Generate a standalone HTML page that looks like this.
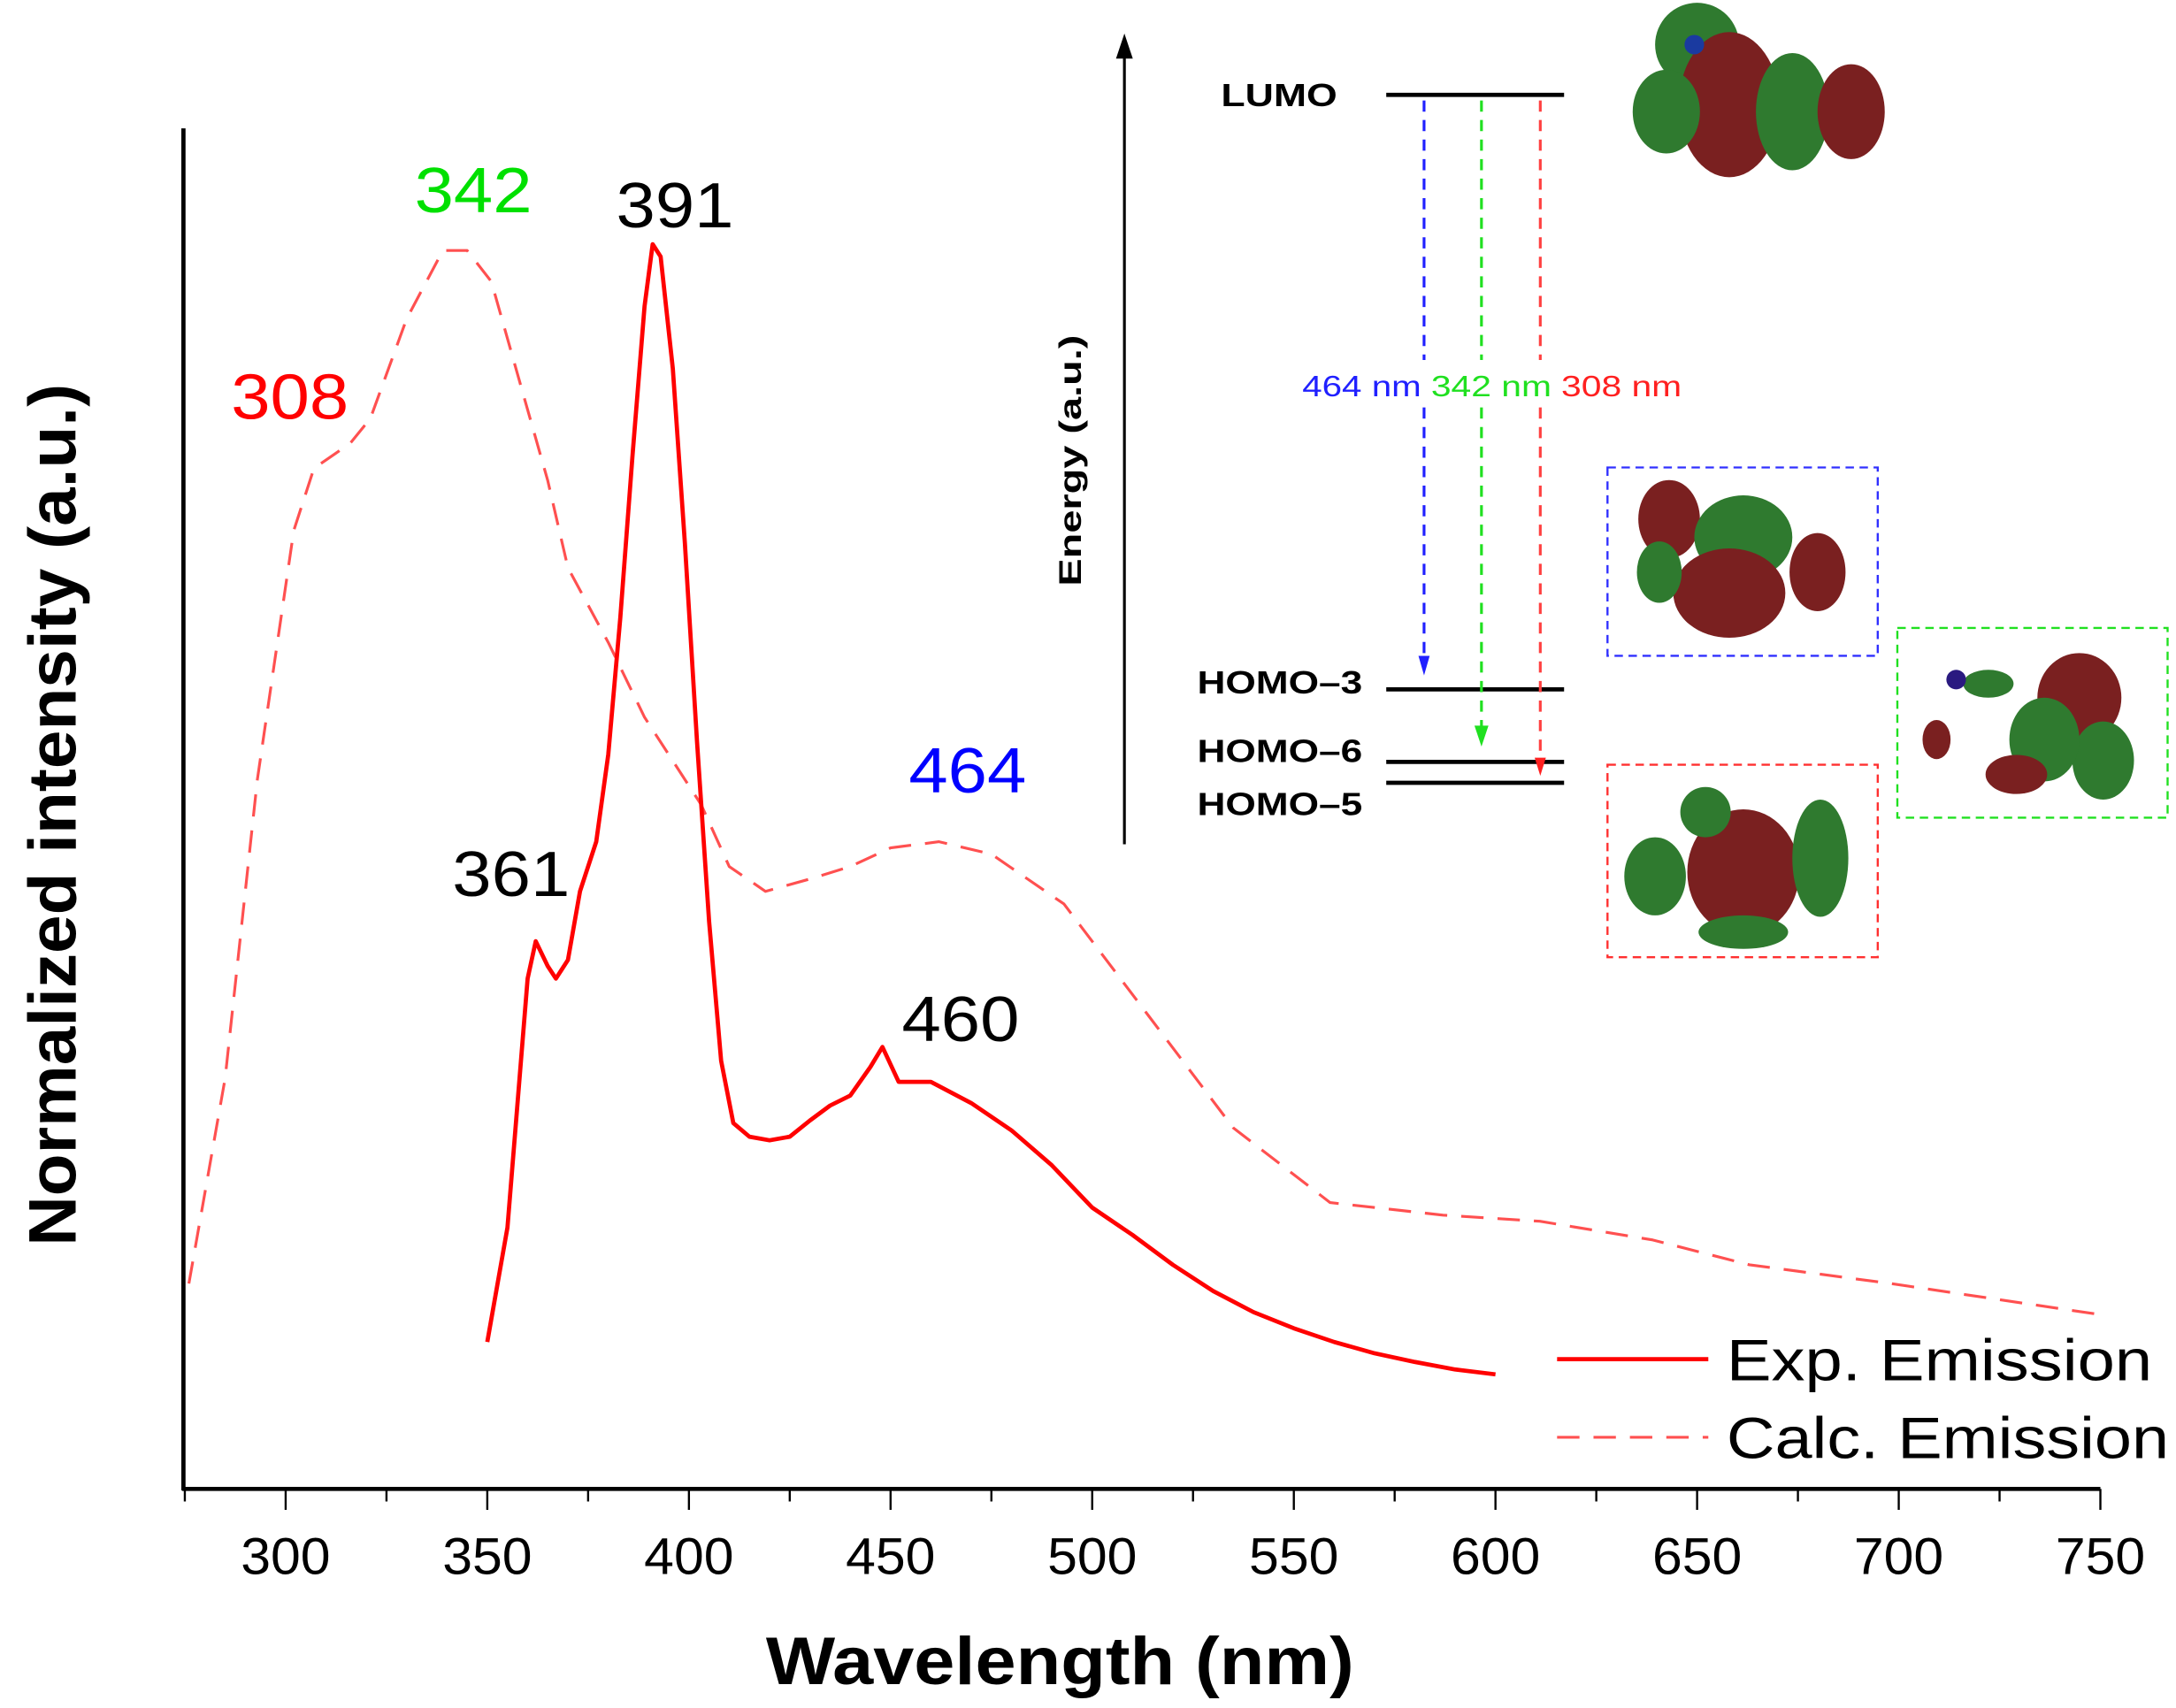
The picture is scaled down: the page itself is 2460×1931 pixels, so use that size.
<!DOCTYPE html>
<html><head><meta charset="utf-8"><style>
html,body{margin:0;padding:0;background:#fff;}
svg{display:block;font-family:"Liberation Sans",Arial,sans-serif;}
</style></head><body>
<svg id="chart" width="2460" height="1931" viewBox="0 0 1554 1224" preserveAspectRatio="none" xmlns="http://www.w3.org/2000/svg">
<g id="plot"></g>
<g id="inset">
  <line x1="803" y1="605" x2="803" y2="34" stroke="#000" stroke-width="2"/>
  <path d="M797,42 L803,24 L809,42 Z" fill="#000"/>
  <text transform="translate(772,330) rotate(-90)" text-anchor="middle" font-size="22" font-weight="bold" textLength="180" lengthAdjust="spacingAndGlyphs">Energy (a.u.)</text>
  <line x1="990" y1="68" x2="1117" y2="68" stroke="#000" stroke-width="3"/>
  <text x="872" y="76" font-size="23" font-weight="bold" textLength="83" lengthAdjust="spacingAndGlyphs">LUMO</text>
  <line x1="990" y1="494" x2="1117" y2="494" stroke="#000" stroke-width="3"/>
  <text x="855" y="497" font-size="23" font-weight="bold" textLength="118" lengthAdjust="spacingAndGlyphs">HOMO–3</text>
  <line x1="990" y1="546" x2="1117" y2="546" stroke="#000" stroke-width="3"/>
  <text x="855" y="546" font-size="23" font-weight="bold" textLength="118" lengthAdjust="spacingAndGlyphs">HOMO–6</text>
  <line x1="990" y1="561" x2="1117" y2="561" stroke="#000" stroke-width="3"/>
  <text x="855" y="584" font-size="23" font-weight="bold" textLength="118" lengthAdjust="spacingAndGlyphs">HOMO–5</text>
  <g stroke-width="2" stroke-dasharray="8,6" fill="none">
    <path d="M1017,72 V258 M1017,292 V472" stroke="#2020ff"/>
    <path d="M1058,72 V258 M1058,292 V522" stroke="#20e020"/>
    <path d="M1100,72 V258 M1100,292 V544" stroke="#ff4040"/>
  </g>
  <path d="M1013,470 L1017,484 L1021,470Z" fill="#2020ff"/>
  <path d="M1053,520 L1058,535 L1063,520Z" fill="#20e020"/>
  <path d="M1096,543 L1100,556 L1104,543Z" fill="#ff2020"/>
  <text x="930" y="284" font-size="21" fill="#2020ff" textLength="85" lengthAdjust="spacingAndGlyphs">464 nm</text>
  <text x="1022" y="284" font-size="21" fill="#20e020" textLength="86" lengthAdjust="spacingAndGlyphs">342 nm</text>
  <text x="1115" y="284" font-size="21" fill="#ff2020" textLength="86" lengthAdjust="spacingAndGlyphs">308 nm</text>
  <rect x="1148" y="335" width="193" height="135" fill="none" stroke="#3030ff" stroke-width="1.5" stroke-dasharray="6,4"/>
  <rect x="1355" y="450" width="193" height="136" fill="none" stroke="#20e020" stroke-width="1.5" stroke-dasharray="6,4"/>
  <rect x="1148" y="548" width="193" height="138" fill="none" stroke="#ff3030" stroke-width="1.5" stroke-dasharray="6,4"/>
  <g>
    <ellipse cx="1212" cy="32" rx="30" ry="30" fill="#2f7a2f"/>
    <ellipse cx="1235" cy="75" rx="36" ry="52" fill="#7a2020"/>
    <ellipse cx="1190" cy="80" rx="24" ry="30" fill="#2f7a2f"/>
    <ellipse cx="1280" cy="80" rx="26" ry="42" fill="#2f7a2f"/>
    <ellipse cx="1322" cy="80" rx="24" ry="34" fill="#7a2020"/>
    <circle cx="1210" cy="32" r="7" fill="#1a3aa0"/>
  </g>
  <g>
    <ellipse cx="1192" cy="372" rx="22" ry="28" fill="#7a2020"/>
    <ellipse cx="1245" cy="385" rx="35" ry="30" fill="#2f7a2f"/>
    <ellipse cx="1235" cy="425" rx="40" ry="32" fill="#7a2020"/>
    <ellipse cx="1298" cy="410" rx="20" ry="28" fill="#7a2020"/>
    <ellipse cx="1185" cy="410" rx="16" ry="22" fill="#2f7a2f"/>
  </g>
  <g>
    <ellipse cx="1485" cy="500" rx="30" ry="32" fill="#7a2020"/>
    <ellipse cx="1502" cy="545" rx="22" ry="28" fill="#2f7a2f"/>
    <ellipse cx="1460" cy="530" rx="25" ry="30" fill="#2f7a2f"/>
    <ellipse cx="1440" cy="555" rx="22" ry="14" fill="#7a2020"/>
    <ellipse cx="1420" cy="490" rx="18" ry="10" fill="#2f7a2f"/>
    <circle cx="1397" cy="487" r="7" fill="#2a1a80"/>
    <ellipse cx="1383" cy="530" rx="10" ry="14" fill="#7a2020"/>
  </g>
  <g>
    <ellipse cx="1245" cy="625" rx="40" ry="45" fill="#7a2020"/>
    <ellipse cx="1182" cy="628" rx="22" ry="28" fill="#2f7a2f"/>
    <ellipse cx="1300" cy="615" rx="20" ry="42" fill="#2f7a2f"/>
    <ellipse cx="1218" cy="582" rx="18" ry="18" fill="#2f7a2f"/>
    <ellipse cx="1245" cy="668" rx="32" ry="12" fill="#2f7a2f"/>
  </g>
</g>
<g id="legend">
  <g>
    <line x1="1112" y1="974" x2="1220" y2="974" stroke="#ff0000" stroke-width="3"/>
    <text x="1233" y="989" font-size="42" textLength="304" lengthAdjust="spacingAndGlyphs">Exp. Emission</text>
  </g>
  <g>
    <line x1="1112" y1="1030" x2="1220" y2="1030" stroke="#ff5050" stroke-width="2" stroke-dasharray="16,10"/>
    <text x="1233" y="1045" font-size="42" textLength="316" lengthAdjust="spacingAndGlyphs">Calc. Emission</text>
  </g>
</g>
</svg>
<script>
const ticks = [300,350,400,450,500,550,600,650,700,750];
const expWl = [350,355,360,362,365,367,370,373,377,380,383,386,389,391,393,396,399,402,405,408,411,415,420,425,430,435,440,445,448,452,460,470,480,490,500,510,520,530,540,550,560,570,580,590,600];
const expVal = [0.118,0.21,0.41,0.44,0.42,0.41,0.425,0.48,0.52,0.59,0.70,0.83,0.95,1.0,0.99,0.90,0.76,0.60,0.456,0.344,0.294,0.283,0.28,0.283,0.296,0.308,0.316,0.339,0.355,0.327,0.327,0.31,0.288,0.26,0.226,0.204,0.18,0.159,0.142,0.129,0.118,0.109,0.102,0.096,0.092];
const calcWl = [276,285,293,302,307,316,321,330,339,345,351,358,365,370,380,389,403,410,419,430,440,450,462,475,493,514,535,559,587,611,639,663,698,750];
const calcVal = [0.165,0.33,0.57,0.77,0.82,0.84,0.86,0.94,0.995,0.995,0.97,0.89,0.81,0.74,0.68,0.62,0.55,0.50,0.48,0.49,0.50,0.515,0.52,0.51,0.47,0.38,0.29,0.23,0.22,0.215,0.20,0.18,0.165,0.14];
const peakLabels = ["308","342","391","361","464","460"];

const NS = "http://www.w3.org/2000/svg";
const X0 = 132, XPX = 144/50, XMIN = 275;
const Y0 = 1067, YH = 892;
function xs(w){ return X0 + (w - XMIN) * XPX; }
function ys(v){ return Y0 - v * YH; }
const g = document.getElementById('plot');
function mk(tag, attrs){ const e = document.createElementNS(NS, tag); for (const k in attrs) e.setAttribute(k, attrs[k]); g.appendChild(e); return e; }

const yAxis = mk('line', {x1:131,y1:92,x2:131,y2:1068,stroke:'#000','stroke-width':3});


const xAxis = mk('line', {x1:130,y1:1067,x2:1500,y2:1067,stroke:'#000','stroke-width':3});


for (let w = 275; w <= 750; w += 25) {
  const major = (w % 50 === 0);
  const t = mk('line', {x1:xs(w),y1:1067,x2:xs(w),y2:major?1082:1076,stroke:'#000','stroke-width':1.5});
  
  
}
ticks.forEach(w => {
  const t = mk('text', {x:xs(w), y:1128, 'text-anchor':'middle', 'font-size':37, textLength:64, lengthAdjust:'spacingAndGlyphs'});
  t.textContent = w;
  
  
});
const xt = mk('text', {x:757, y:1207, 'text-anchor':'middle', 'font-size':48, 'font-weight':'bold', textLength:420, lengthAdjust:'spacingAndGlyphs'});
xt.textContent = 'Wavelength (nm)';


const yt = mk('text', {transform:'translate(54,584) rotate(-90)', 'text-anchor':'middle', 'font-size':48, 'font-weight':'bold', textLength:618, lengthAdjust:'spacingAndGlyphs'});
yt.textContent = 'Normalized intensity (a.u.)';



function pathOf(wl, v){ return wl.map((w,i)=> (i?'L':'M') + xs(w).toFixed(1) + ',' + ys(v[i]).toFixed(1)).join(' '); }
const calc = mk('path', {d:pathOf(calcWl, calcVal), fill:'none', stroke:'#ff5050','stroke-width':2,'stroke-dasharray':'16,10','stroke-linejoin':'round'});


const exp = mk('path', {d:pathOf(expWl, expVal), fill:'none', stroke:'#ff0000','stroke-width':3,'stroke-linejoin':'round'});



const labelPos = [[207,300,'#ff0000'],[338,152,'#00e000'],[482,163,'#000'],[365,642,'#000'],[691,568,'#0000ff'],[686,746,'#000']];
peakLabels.forEach((s,i) => {
  const p = labelPos[i];
  const t = mk('text', {x:p[0], y:p[1], 'text-anchor':'middle', 'font-size':46, fill:p[2], textLength:84, lengthAdjust:'spacingAndGlyphs'});
  t.textContent = s;
  
  
});
</script>
</body></html>
